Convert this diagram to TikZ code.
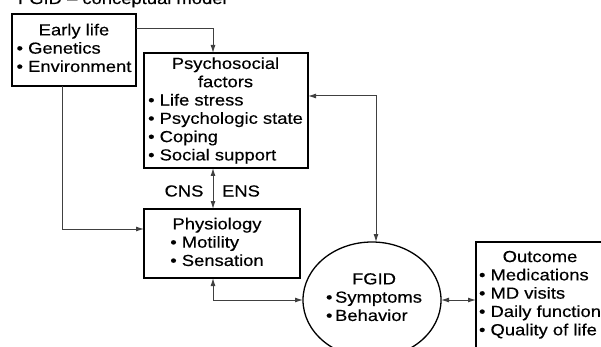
\documentclass[tikz,border=0pt]{standalone}
\usepackage{fontspec}
\setmainfont{Liberation Sans}[FakeStretch=1.15,FakeBold=0.4]
\usetikzlibrary{arrows.meta,calc,shapes.geometric}
\begin{document}
\begin{tikzpicture}[x=1pt,y=-1pt,
  box/.style={draw=black, line width=1.3pt, inner sep=0pt, outer sep=0pt},
  conn/.style={draw=black!75, line width=1pt},
  arr/.style={-{Latex[length=8pt,width=5pt]}},
  darr/.style={{Latex[length=8pt,width=5pt]}-{Latex[length=8pt,width=5pt]}},
  txt/.style={font=\fontsize{16}{18.3}\selectfont, inner sep=0pt, outer sep=0pt}]
\useasboundingbox (0,0) rectangle (601,347);
\clip (0,0) rectangle (601,347);
% title (clipped at top as in reference)
\node[txt, anchor=base west] (title) at (18,4) {FGID -- conceptual model};
% boxes
\node[box, minimum width=124pt, minimum height=72pt] (early) at (74,50) {};
\node[box, minimum width=164pt, minimum height=115pt] (psycho) at (226,110.5) {};
\node[box, minimum width=156pt, minimum height=69pt] (physio) at (222,243.5) {};
\node[box, ellipse, minimum width=138pt, minimum height=116pt] (fgid) at (372,300) {};
\node[box, minimum width=184pt, minimum height=178pt] (outcome) at (568,331) {};
% texts
\node[txt] (earlyt) at (74,50) {\begin{tabular}{@{}l@{}}\multicolumn{1}{@{}c@{}}{Early life}\\ • Genetics\\ • Environment\end{tabular}};
\node[txt] (psychot) at (225.5,111) {\begin{tabular}{@{}l@{}}\multicolumn{1}{@{}c@{}}{Psychosocial}\\ \multicolumn{1}{@{}c@{}}{factors}\\ • Life stress\\ • Psychologic state\\ • Coping\\ • Social support\end{tabular}};
\node[txt] (physiot) at (217,244) {\begin{tabular}{@{}l@{}}\multicolumn{1}{@{}c@{}}{Physiology}\\ • Motility\\ • Sensation\end{tabular}};
\node[txt] (fgidt) at (374,299) {\begin{tabular}{@{}l@{}}\multicolumn{1}{@{}c@{}}{FGID}\\ •\,Symptoms\\ •\,Behavior\end{tabular}};
\node[txt, anchor=west] (outcomet) at (479,295) {\begin{tabular}{@{}l@{}}\multicolumn{1}{@{}c@{}}{Outcome}\\ • Medications\\ • MD visits\\ • Daily function\\ • Quality of life\end{tabular}};
\node[txt] (cns) at (184,191) {CNS};
\node[txt] (ens) at (241,191) {ENS};
% connectors
\draw[conn,arr] ([yshift=-15pt]early.north east) -| ([xshift=-13pt]psycho.north);
\draw[conn,darr] ([xshift=-13pt]psycho.south) -- ([xshift=-9pt]physio.north);
\draw[conn,arr] ([xshift=-12pt]early.south) |- ([yshift=14.5pt]physio.west);
\draw[conn,darr] ([xshift=-9pt]physio.south) |- (fgid.west);
\draw[conn,darr] ([yshift=14.5pt]psycho.east) -| ([xshift=4pt]fgid.north);
\draw[conn,darr] (fgid.east) -- (outcome.west |- fgid.east);
\end{tikzpicture}
\end{document}
